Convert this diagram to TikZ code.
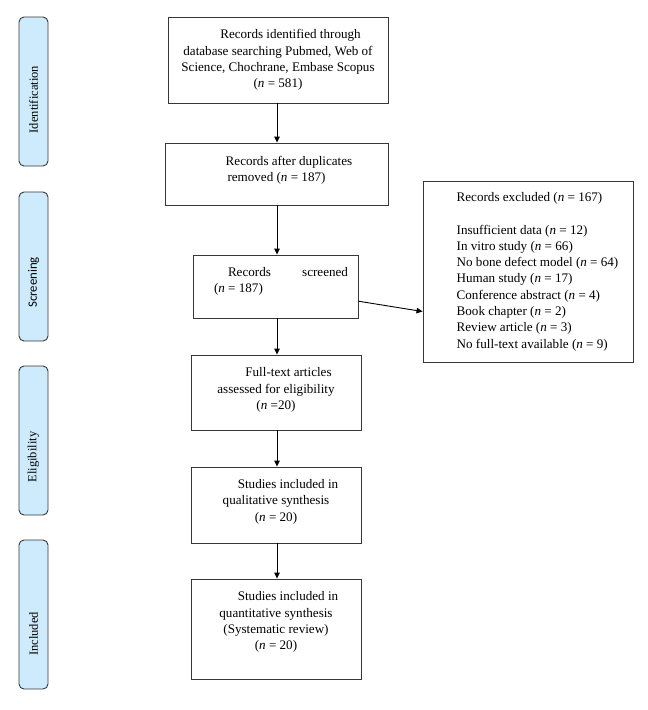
\documentclass[tikz,border=0pt]{standalone}
\usepackage{fontspec}
\setmainfont{Liberation Serif}
\newfontfamily\calib{Carlito}
\usetikzlibrary{arrows.meta,calc}
\definecolor{sidefill}{RGB}{206,235,253}
\definecolor{edgegray}{RGB}{55,55,55}
\newcommand\bodyfont{\fontsize{13.1pt}{16.3pt}\selectfont}
\newcommand\sidefont{\fontsize{12.5pt}{14pt}\selectfont}
\newcommand\ctext[2]{\begin{tabular}{@{}c@{}}#1\\[#2]\end{tabular}}
\begin{document}
\begin{tikzpicture}[x=1pt,y=-1pt,
  flowbox/.style={draw=edgegray,line width=0.9pt,inner sep=0pt,font=\bodyfont},
  sidebox/.style={draw=edgegray,fill=sidefill,line width=0.9pt,rounded corners=5pt,rotate=90,
    minimum width=149pt,minimum height=29pt,inner sep=0pt,font=\sidefont},
  flowarrow/.style={draw=black,line width=0.9pt,-{Triangle[length=6pt,width=5.5pt]}}]
\useasboundingbox (0,0) rectangle (648,710);

% side labels
\node[sidebox] (sid) at (33.5,91.5) {Identification\hspace*{16pt}};
\node[sidebox] (sscr) at (33.5,266.5) {\calib\fontsize{12.8pt}{14pt}\selectfont Screening\hspace*{32pt}};
\node[sidebox] (seli) at (33.5,440.5) {Eligibility\hspace*{33pt}};
\node[sidebox] (sinc) at (33.5,614.5) {Included\hspace*{39pt}};

% main column
\coordinate (colx) at (277,0);
\node[flowbox,minimum width=220pt,minimum height=86pt] (b1) at (278,60)
  {\ctext{\hspace*{25pt}Records identified through\\
  database searching Pubmed, Web of\\
  Science, Chochrane, Embase Scopus\\
  (\textit{n} = 581)}{0pt}};
\node[flowbox,minimum width=223pt,minimum height=62pt] (b2) at (276.5,174)
  {\ctext{\hspace*{25pt}Records after duplicates\\
  removed (\textit{n} = 187)}{8pt}};
\node[flowbox,minimum width=165pt,minimum height=63pt] (b3) at (275.5,286.5)
  {\begin{tabular}{@{\hspace{11pt}}l@{}}
  \makebox[134pt]{\hspace*{14pt}Records\hfill screened}\\
  \makebox[134pt][l]{(\textit{n} = 187)}\\[10pt]
  \end{tabular}};
\node[flowbox,minimum width=170pt,minimum height=75pt] (b4) at (276,392.5)
  {\ctext{\hspace*{25pt}Full-text articles\\
  assessed for eligibility\\
  (\textit{n} =20)}{5pt}};
\node[flowbox,minimum width=170pt,minimum height=76pt] (b5) at (276,505)
  {\ctext{\hspace*{24pt}Studies included in\\
  qualitative synthesis\\
  (\textit{n} = 20)}{7pt}};
\node[flowbox,minimum width=170pt,minimum height=100pt] (b6) at (276,629)
  {\ctext{\hspace*{24pt}Studies included in\\
  quantitative synthesis\\
  (Systematic review)\\
  (\textit{n} = 20)}{14pt}};

% excluded box
\node[flowbox,minimum width=210pt,minimum height=181pt] (rx) at (528,271.5)
  {\begin{tabular}{@{\hspace{19pt}}l@{}}
  Records excluded (\textit{n} = 167)\\
  \\
  Insufficient data (\textit{n} = 12)\\
  In vitro study (\textit{n} = 66)\\
  No bone defect model (\textit{n} = 64)\\
  Human study (\textit{n} = 17)\\
  Conference abstract (\textit{n} = 4)\\
  Book chapter (\textit{n} = 2)\\
  Review article (\textit{n} = 3)\\
  No full-text available (\textit{n} = 9)
  \end{tabular}};

% connectors
\draw[flowarrow] (b1.south -| colx) -- (b2.north -| colx);
\draw[flowarrow] (b2.south -| colx) -- (b3.north -| colx);
\draw[flowarrow] (b3.south -| colx) -- (b4.north -| colx);
\draw[flowarrow] (b4.south -| colx) -- (b5.north -| colx);
\draw[flowarrow] (b5.south -| colx) -- (b6.north -| colx);
\draw[flowarrow] ($(b3.north east)!0.73!(b3.south east)$) -- ($(rx.north west)!0.72!(rx.south west)$);
\end{tikzpicture}
\end{document}
